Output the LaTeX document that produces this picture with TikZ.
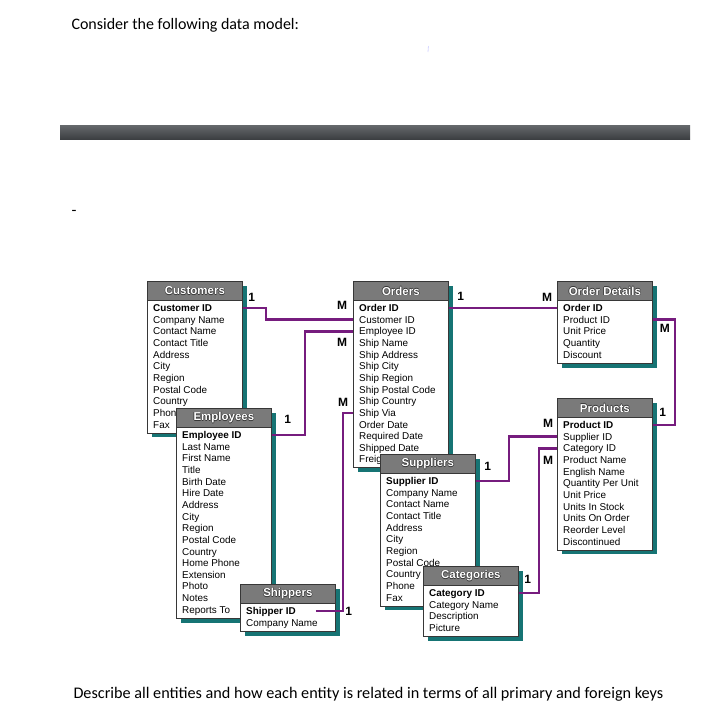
\documentclass[tikz,border=0pt]{standalone}
\usepackage{fontspec}
\setmainfont{Carlito}
\newfontfamily\tblfont{Liberation Sans}
\usepackage{tikz}
\usetikzlibrary{calc,shadows}

\definecolor{TableTeal}{RGB}{22,116,116}
\definecolor{HeadGray}{RGB}{122,122,122}
\definecolor{BoxLine}{RGB}{55,55,55}
\definecolor{LinkPurple}{RGB}{118,28,126}

% white title with a dark rim
\newcommand{\embossed}[1]{\leavevmode
  \rlap{\color{BoxLine}\kern-.6pt#1}\rlap{\color{BoxLine}\kern.6pt#1}%
  \rlap{\color{BoxLine}\raisebox{.6pt}{#1}}\rlap{\color{BoxLine}\raisebox{-.6pt}{#1}}%
  {\color{white}#1}}

% #1 name, #2 top left, #3 number of rows, #4 title, #5 rows
\newcommand{\entity}[5]{%
  \node[tablebox, minimum height={35pt+(#3-1)*11.65pt}] (#1) at (#2) {};
  \node[tablehead] (#1-head) at (#1.north west) {\embossed{#4}};
  \foreach \field [count=\i] in {#5}
    \node[tablerow] (#1-\i) at ($(#1.north west)+(6,{27+(\i-1)*11.65})$) {\ifnum\i=1 \bfseries\fi\field};
}

\begin{document}
\begin{tikzpicture}[
    x=1pt, y=-1pt,
    tablebox/.style={rectangle, draw=BoxLine, line width=0.8pt, fill=white, minimum width=95pt, inner sep=0pt, anchor=north west,
        drop shadow={shadow xshift=4.5pt, shadow yshift=-4.5pt, fill=TableTeal, opacity=1}},
    tablehead/.style={rectangle, draw=BoxLine, line width=0.8pt, fill=HeadGray, minimum width=95pt, minimum height=19pt, inner sep=0pt,
        anchor=north west, font=\tblfont\bfseries\fontsize{11.5}{13}\selectfont},
    tablerow/.style={anchor=west, inner sep=0pt, text height=7pt, text depth=0pt, font=\tblfont\fontsize{9.9}{11}\selectfont},
    card/.style={inner sep=0pt, font=\tblfont\bfseries\fontsize{12}{13}\selectfont},
    relation/.style={draw=LinkPurple, line width=2.6pt}
]
\fill[white] (0,0) rectangle (709,715);
\useasboundingbox (0,0) rectangle (709,715);

\node[anchor=base west, font=\fontsize{16}{19}\selectfont] (intro) at (68,29) {Consider the following data model:};
\draw[blue!15, line width=0.8pt] (428.5,46) -- (428,52);
\shade[top color={rgb,255:red,102;green,105;blue,108}, bottom color={rgb,255:red,60;green,63;blue,66}] (60,125) rectangle (690,139);
\node[anchor=base west, font=\fontsize{16}{19}\selectfont] (dash) at (68,215) {-};

% tables
\entity{customers}{147,281}{11}{Customers}{Customer ID, Company Name, Contact Name, Contact Title, Address, City, Region, Postal Code, Country, Phone, Fax}
\entity{orders}{353,281}{14}{Orders}{Order ID, Customer ID, Employee ID, Ship Name, Ship Address, Ship City, Ship Region, Ship Postal Code, Ship Country, Ship Via, Order Date, Required Date, Shipped Date, Freight}
\entity{orderdet}{557,281}{5}{Order Details}{Order ID, Product ID, Unit Price, Quantity, Discount}
\entity{products}{557,398}{11}{Products}{Product ID, Supplier ID, Category ID, Product Name, English Name, Quantity Per Unit, Unit Price, Units In Stock, Units On Order, Reorder Level, Discontinued}
\entity{employees}{176,408}{16}{Employees}{Employee ID, Last Name, First Name, Title, Birth Date, Hire Date, Address, City, Region, Postal Code, Country, Home Phone, Extension, Photo, Notes, Reports To}
\entity{suppliers}{380,454}{11}{Suppliers}{Supplier ID, Company Name, Contact Name, Contact Title, Address, City, Region, Postal Code, Country, Phone, Fax}
\entity{shippers}{240,584}{2}{Shippers}{Shipper ID, Company Name}
\entity{categories}{423,566}{4}{Categories}{Category ID, Category Name, Description, Picture}

% relations
\draw[relation] (customers.east |- customers-1) -- ++(23,0) |- (orders.west |- orders-2);
\draw[relation] (employees.east |- employees-1) -- ++(33,0) |- (orders.west |- orders-3);
\draw[relation] ($(shippers.east |- shippers-1)+(-20,0)$) -- ++(27,0) |- (orders.west |- orders-10);
\draw[relation] (orders.east |- orders-1) -- (orderdet.west |- orderdet-1);
\draw[relation] (orderdet.east |- orderdet-2) -- ++(22,0) |- (products.east |- products-1);
\draw[relation] (suppliers.east |- suppliers-1) -- ++(33,0) |- (products.west |- products-2);
\draw[relation] (categories.east |- categories-1) -- ++(20,0) |- (products.west |- products-3);

\node[card] (one-cust) at ($(customers.east |- customers-1)+(9,-11)$) {1};
\node[card] (many-cust) at ($(orders.west |- orders-2)+(-11,-14)$) {M};
\node[card] (one-emp) at ($(employees.east |- employees-1)+(16,-16)$) {1};
\node[card] (many-emp) at ($(orders.west |- orders-3)+(-11,11)$) {M};
\node[card] (one-ship) at ($(shippers.east |- shippers-1)+(13,0)$) {1};
\node[card] (many-ship) at ($(orders.west |- orders-10)+(-10,-10)$) {M};
\node[card] (one-ord) at ($(orders.east |- orders-1)+(12,-12)$) {1};
\node[card] (many-ord) at ($(orderdet.west |- orderdet-1)+(-10,-11)$) {M};
\node[card] (many-prod) at ($(orderdet.east |- orderdet-2)+(12,9)$) {M};
\node[card] (one-prod) at ($(products.east |- products-1)+(10,-13)$) {1};
\node[card] (one-sup) at ($(suppliers.east |- suppliers-1)+(12,-15)$) {1};
\node[card] (many-sup) at ($(products.west |- products-2)+(-9,-13)$) {M};
\node[card] (one-cat) at ($(categories.east |- categories-1)+(9,-14)$) {1};
\node[card] (many-cat) at ($(products.west |- products-3)+(-9,12)$) {M};

\node[anchor=base west, font=\fontsize{16.2}{19}\selectfont] (task) at (70,698) {Describe all entities and how each entity is related in terms of all primary and foreign keys};
\end{tikzpicture}
\end{document}
